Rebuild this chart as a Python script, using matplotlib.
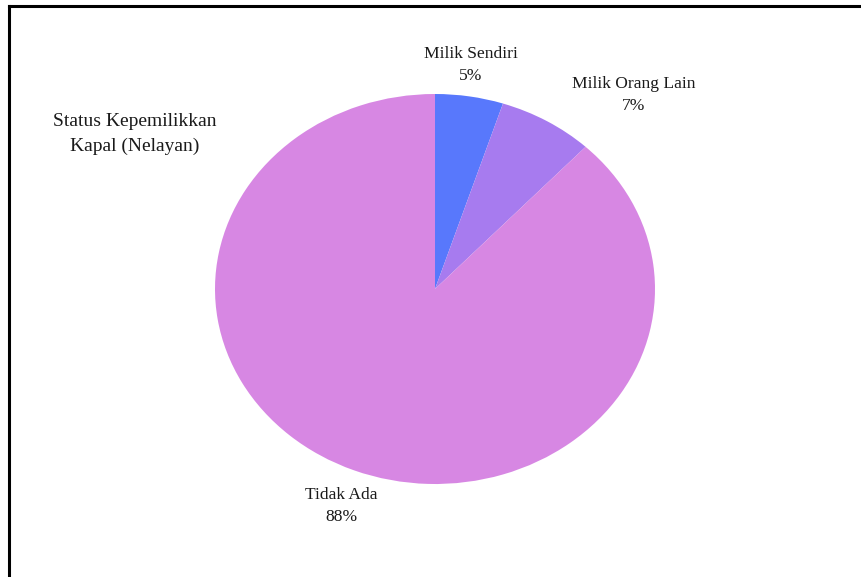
import matplotlib.pyplot as plt
from matplotlib.lines import Line2D

# Status kepemilikan kapal nelayan (persen)
categories = ["Milik Sendiri", "Milik Orang Lain", "Tidak Ada"]
shares = [5, 7, 88]
colors = ["#5878fc", "#a77bef", "#d787e3"]
title = "Status Kepemilikkan\nKapal (Nelayan)"

# label anchor points in figure pixels (x, y from top)
label_pos = [(471, 65), (634, 95), (341, 506)]

W, H = 861, 577
fig = plt.figure(figsize=(W / 100, H / 100), dpi=100)
plt.rcParams['font.family'] = ['Liberation Serif', 'DejaVu Serif']

# elliptical pie: axes box 440 x 390 px, aspect left free
ax = fig.add_axes([215 / W, (H - 484) / H, 440 / W, 390 / H])
ax.pie(shares, colors=colors, startangle=90, counterclock=False,
       wedgeprops=dict(linewidth=0))
ax.set_aspect('auto')
ax.set_xlim(-1, 1)
ax.set_ylim(-1, 1)
ax.axis('off')

for name, val, (x, y) in zip(categories, shares, label_pos):
    fig.text(x / W, 1 - y / H, f"{name}\n{val}%", ha='center', va='center',
             fontsize=12.6, color='#1a1a1a', linespacing=1.46)

fig.text(135 / W, 1 - 134 / H, title, ha='center', va='center',
         fontsize=14, color='#1a1a1a', linespacing=1.6)

# frame lines on top and left only
fig.add_artist(Line2D([9 / W, 1], [1 - 6 / H, 1 - 6 / H], color='black', lw=2.2))
fig.add_artist(Line2D([9 / W, 9 / W], [0, 1 - 6 / H], color='black', lw=2.2))

fig.savefig("out.png", dpi=100)
